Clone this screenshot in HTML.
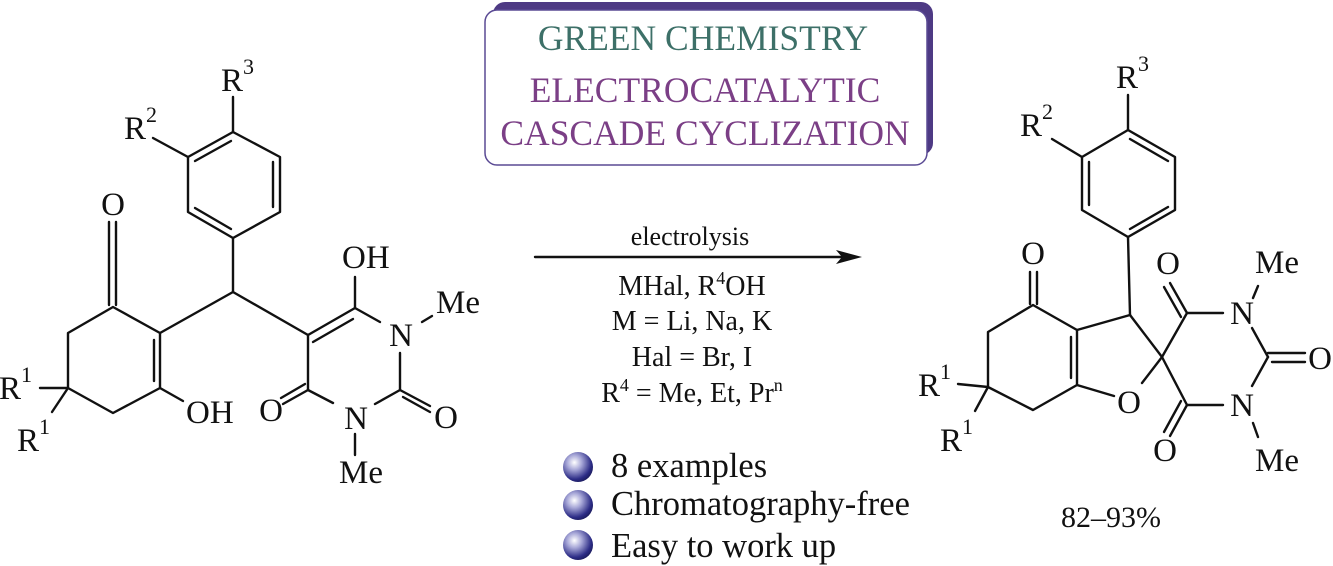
<!DOCTYPE html>
<html><head><meta charset="utf-8"><style>
html,body{margin:0;padding:0;background:#fff;}
svg{display:block;}
text{font-family:"Liberation Serif","Times New Roman",serif;fill:#111;}
</style></head><body>
<svg width="1333" height="566" viewBox="0 0 1333 566" xmlns="http://www.w3.org/2000/svg" font-family="Liberation Serif, serif">
<defs>
<radialGradient id="sph" cx="0.38" cy="0.35" r="0.7">
<stop offset="0" stop-color="#ffffff"/>
<stop offset="0.35" stop-color="#a8a8d8"/>
<stop offset="0.8" stop-color="#2c2c86"/>
<stop offset="1" stop-color="#1a1a5a"/>
</radialGradient>
</defs>
<rect x="493" y="2" width="440" height="153" rx="12" fill="#4e3a84"/>
<rect x="485" y="10" width="442" height="155" rx="12" fill="#fff" stroke="#5a4a94" stroke-width="1.5"/>
<text x="703" y="50" font-size="35.5" text-anchor="middle" style="fill:#3d7068">GREEN CHEMISTRY</text>
<text x="705" y="102" font-size="35.5" text-anchor="middle" style="fill:#7b3f86">ELECTROCATALYTIC</text>
<text x="705" y="145" font-size="35.5" text-anchor="middle" style="fill:#7b3f86">CASCADE CYCLIZATION</text>

<g stroke="#111" stroke-width="2.4" fill="none" stroke-linecap="round">
<polygon points="233,132 188,157 188,212 233,238 280,212 280,157" stroke-linejoin="round"/>
<line x1="231" y1="141" x2="195" y2="161"/>
<line x1="195" y1="208" x2="231" y2="229"/>
<line x1="273" y1="162" x2="273" y2="207"/>
<line x1="233" y1="132" x2="233" y2="97"/>
<line x1="188" y1="157" x2="153" y2="138"/>
<line x1="233" y1="238" x2="233" y2="292"/>
<line x1="233" y1="292" x2="160" y2="333"/>
<line x1="233" y1="292" x2="308" y2="335"/>
<polyline points="160,333 113,307 68,333 68,388 113,413 160,388 160,333" stroke-linejoin="round"/>
<line x1="154" y1="340" x2="154" y2="381"/>
<line x1="109" y1="305" x2="109" y2="222"/>
<line x1="116" y1="305" x2="116" y2="222"/>
<line x1="160" y1="388" x2="183" y2="401"/>
<line x1="68" y1="388" x2="40" y2="388"/>
<line x1="68" y1="388" x2="52" y2="412"/>
<line x1="308" y1="335" x2="355" y2="308"/>
<line x1="313" y1="342" x2="353" y2="319"/>
<line x1="355" y1="308" x2="355" y2="277"/>
<line x1="355" y1="308" x2="380" y2="322"/>
<line x1="422" y1="322" x2="432" y2="316"/>
<line x1="400" y1="353" x2="400" y2="390"/>
<line x1="400" y1="390" x2="430" y2="406"/>
<line x1="403" y1="397" x2="430" y2="412"/>
<line x1="400" y1="390" x2="375" y2="404"/>
<line x1="355" y1="434" x2="355" y2="455"/>
<line x1="333" y1="403" x2="308" y2="390"/>
<line x1="308" y1="390" x2="308" y2="335"/>
<line x1="308" y1="390" x2="283" y2="404"/>
<line x1="305" y1="384" x2="281" y2="398"/>

<polygon points="1128,130 1082,157 1082,210 1128,237 1175,210 1175,157" stroke-linejoin="round"/>
<line x1="1130" y1="139" x2="1168" y2="161"/>
<line x1="1089" y1="162" x2="1089" y2="205"/>
<line x1="1130" y1="229" x2="1168" y2="207"/>
<line x1="1128" y1="130" x2="1128" y2="95"/>
<line x1="1082" y1="157" x2="1052" y2="139"/>
<line x1="1128" y1="237" x2="1130" y2="315"/>
<polyline points="1077,330 1033,305 988,332 988,387 1033,410 1077,385 1077,330" stroke-linejoin="round"/>
<line x1="1071" y1="337" x2="1071" y2="378"/>
<line x1="1030" y1="304" x2="1030" y2="272"/>
<line x1="1037" y1="304" x2="1037" y2="272"/>
<line x1="1130" y1="315" x2="1077" y2="330"/>
<line x1="1130" y1="315" x2="1162" y2="357"/>
<line x1="1162" y1="357" x2="1142" y2="383"/>
<line x1="1077" y1="385" x2="1114" y2="396"/>
<line x1="988" y1="387" x2="958" y2="384"/>
<line x1="988" y1="387" x2="975" y2="411"/>
<line x1="1162" y1="357" x2="1187" y2="313"/>
<line x1="1162" y1="357" x2="1187" y2="405"/>
<line x1="1187" y1="313" x2="1223" y2="313"/>
<line x1="1187" y1="313" x2="1170" y2="283"/>
<line x1="1181" y1="317" x2="1164" y2="287"/>
<line x1="1187" y1="405" x2="1223" y2="405"/>
<line x1="1187" y1="405" x2="1170" y2="436"/>
<line x1="1181" y1="401" x2="1164" y2="432"/>
<line x1="1253" y1="298" x2="1258" y2="286"/>
<line x1="1252" y1="328" x2="1268" y2="357"/>
<line x1="1268" y1="353" x2="1305" y2="353"/>
<line x1="1272" y1="362" x2="1305" y2="362"/>
<line x1="1268" y1="357" x2="1252" y2="386"/>
<line x1="1253" y1="423" x2="1258" y2="437"/>

<line x1="535" y1="257" x2="845" y2="257"/>
</g>
<polygon points="862,257 836,250 842,257 836,264" fill="#111"/>

<g font-size="33">
<text x="221" y="91">R<tspan font-size="22" dy="-17">3</tspan></text>
<text x="124" y="139">R<tspan font-size="22" dy="-17">2</tspan></text>
<text x="113" y="215" text-anchor="middle">O</text>
<text x="342" y="268">OH</text>
<text x="436" y="313">Me</text>
<text x="401" y="346" text-anchor="middle">N</text>
<text x="446" y="428" text-anchor="middle">O</text>
<text x="356" y="429" text-anchor="middle">N</text>
<text x="339" y="483">Me</text>
<text x="271" y="421" text-anchor="middle">O</text>
<text x="186" y="423">OH</text>
<text x="-1" y="399">R<tspan font-size="22" dy="-17">1</tspan></text>
<text x="17" y="451">R<tspan font-size="22" dy="-17">1</tspan></text>

<text x="1116" y="88">R<tspan font-size="22" dy="-17">3</tspan></text>
<text x="1020" y="136">R<tspan font-size="22" dy="-17">2</tspan></text>
<text x="1033" y="264" text-anchor="middle">O</text>
<text x="1168" y="274" text-anchor="middle">O</text>
<text x="1255" y="273">Me</text>
<text x="1242" y="324" text-anchor="middle">N</text>
<text x="1320" y="369" text-anchor="middle">O</text>
<text x="1242" y="416" text-anchor="middle">N</text>
<text x="1165" y="461" text-anchor="middle">O</text>
<text x="1255" y="471">Me</text>
<text x="1129" y="413" text-anchor="middle">O</text>
<text x="918" y="396">R<tspan font-size="22" dy="-17">1</tspan></text>
<text x="940" y="451">R<tspan font-size="22" dy="-17">1</tspan></text>
</g>
<text x="1111" y="527" font-size="30" text-anchor="middle">82–93%</text>

<text x="690" y="245" font-size="26" text-anchor="middle">electrolysis</text>
<text x="692" y="295" font-size="28" text-anchor="middle">MHal, R<tspan font-size="18" dy="-11">4</tspan><tspan dy="11">OH</tspan></text>
<text x="692" y="330" font-size="28" text-anchor="middle">M = Li, Na, K</text>
<text x="692" y="366" font-size="28" text-anchor="middle">Hal = Br, I</text>
<text x="692" y="402" font-size="28" text-anchor="middle">R<tspan font-size="18" dy="-11">4</tspan><tspan dy="11"> = Me, Et, Pr</tspan><tspan font-size="18" dy="-11">n</tspan></text>

<circle cx="578" cy="467" r="15" fill="url(#sph)"/>
<circle cx="578" cy="505" r="15" fill="url(#sph)"/>
<circle cx="578" cy="545" r="15" fill="url(#sph)"/>
<text x="611" y="477" font-size="34.5">8 examples</text>
<text x="611" y="515" font-size="34.5">Chromatography-free</text>
<text x="611" y="557" font-size="34.5">Easy to work up</text>
</svg>
</body></html>
